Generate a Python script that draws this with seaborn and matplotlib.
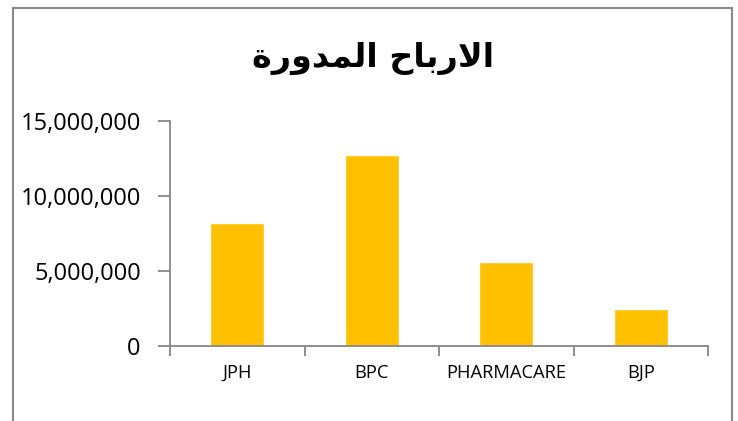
import matplotlib
matplotlib.use("Agg")
import matplotlib.pyplot as plt
from matplotlib.patches import Rectangle
from matplotlib.ticker import FuncFormatter, FixedLocator
import seaborn as sns
import pandas as pd

# ---- data ----
categories = ["JPH", "BPC", "PHARMACARE", "BJP"]
values = [8170000, 12700000, 5570000, 2450000]
y_ticks = [0, 5000000, 10000000, 15000000]
title = "الارباح المدورة"

# ---- minimal Arabic shaping (presentation forms) for display ----
FORMS = {  # iso, fin, ini, med
    "\u0627": ("\uFE8D", "\uFE8E", None, None),
    "\u0644": ("\uFEDD", "\uFEDE", "\uFEDF", "\uFEE0"),
    "\u0631": ("\uFEAD", "\uFEAE", None, None),
    "\u0628": ("\uFE8F", "\uFE90", "\uFE91", "\uFE92"),
    "\u062D": ("\uFEA1", "\uFEA2", "\uFEA3", "\uFEA4"),
    "\u0645": ("\uFEE1", "\uFEE2", "\uFEE3", "\uFEE4"),
    "\u062F": ("\uFEA9", "\uFEAA", None, None),
    "\u0648": ("\uFEED", "\uFEEE", None, None),
    "\u0629": ("\uFE93", "\uFE94", None, None),
}


def shape_word(w):
    units = []
    i = 0
    while i < len(w):
        if w[i] == "\u0644" and i + 1 < len(w) and w[i + 1] == "\u0627":
            units.append("LA")
            i += 2
        else:
            units.append(w[i])
            i += 1

    def dual(u):
        return u != "LA" and FORMS[u][2] is not None

    out = []
    for k, u in enumerate(units):
        prev_joins = k > 0 and dual(units[k - 1])
        next_exists = k + 1 < len(units)
        if u == "LA":
            out.append("\uFEFC" if prev_joins else "\uFEFB")
            continue
        iso, fin, ini, med = FORMS[u]
        if dual(u) and next_exists:
            out.append(med if prev_joins else ini)
        else:
            out.append(fin if prev_joins else iso)
    return "".join(out)


def shape(text):
    words = [shape_word(w) for w in text.split(" ")]
    return " ".join(words)[::-1]


df = pd.DataFrame({"company": categories, "value": values})

sns.set_theme(style="white")
plt.rcParams["font.family"] = ["Open Sans", "DejaVu Sans"]

fig = plt.figure(figsize=(7.38, 4.21), dpi=100)
ax = fig.add_axes([170 / 738, 75.3 / 421, 538 / 738, 225 / 421])

sns.barplot(data=df, x="company", y="value", color="#FFC000", width=0.4,
            saturation=1, ax=ax)

ax.set_xlim(-0.5, len(categories) - 0.5)
ax.set_ylim(0, 15000000)
ax.set_yticks(y_ticks)
ax.yaxis.set_major_formatter(FuncFormatter(lambda v, p: f"{int(v):,}"))
ax.set_xlabel("")
ax.set_ylabel("")

gray = "#868686"
for s in ["top", "right"]:
    ax.spines[s].set_visible(False)
for s in ["left", "bottom"]:
    ax.spines[s].set_color(gray)
    ax.spines[s].set_linewidth(1.3)

ax.tick_params(axis="y", which="major", length=9, width=1.3, color=gray,
               pad=12, labelsize=17, labelcolor="black", left=True)
ax.tick_params(axis="x", which="major", length=0, pad=13, labelsize=13.2,
               labelcolor="black")
ax.xaxis.set_minor_locator(FixedLocator([i - 0.5 for i in range(len(categories) + 1)]))
ax.tick_params(axis="x", which="minor", length=7, width=1.3, color=gray, bottom=True)

fig.text(373 / 738, 1 - 58 / 421, shape(title), ha="center", va="center",
         fontsize=24, fontweight="bold", family=["DejaVu Sans"], color="black")

fig.patches.append(Rectangle((13 / 738, -0.1), (732 - 13) / 738, 1.1 - 8 / 421,
                             transform=fig.transFigure, fill=False,
                             edgecolor="#898989", linewidth=1.5))

fig.savefig("out.png", dpi=100, facecolor="white")
